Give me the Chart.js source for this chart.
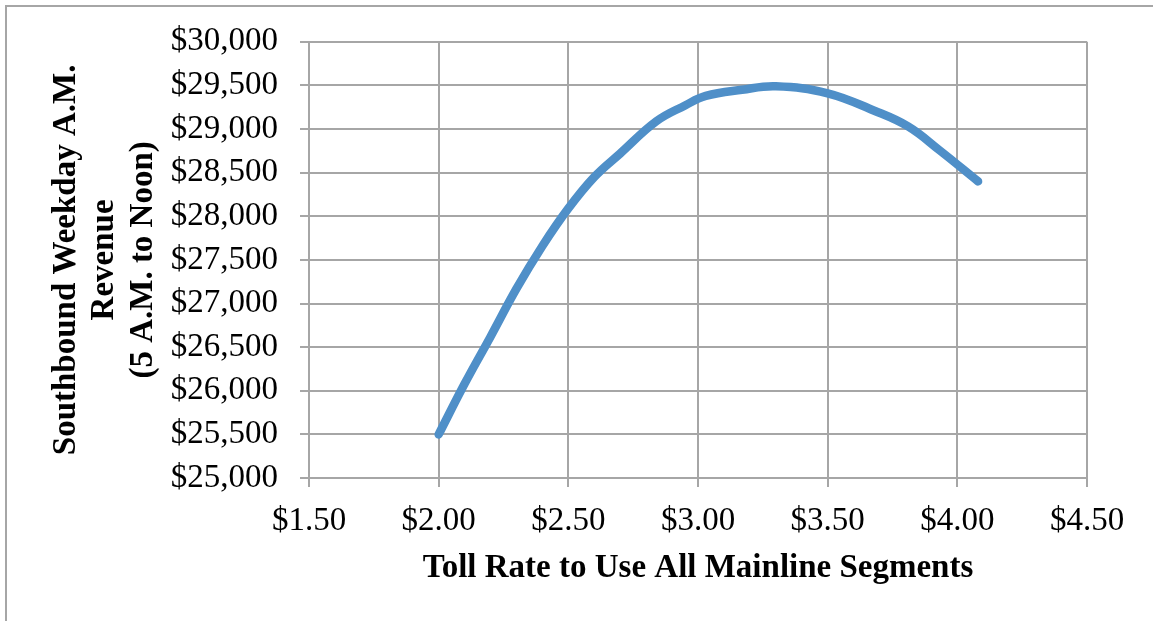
<!DOCTYPE html>
<html lang="en">
<head>
    <meta charset="UTF-8">
    <title>Toll Rate vs Revenue</title>
    <script src="https://cdn.jsdelivr.net/npm/chart.js"></script>
    <style>
        body {
            margin: 0;
            padding: 0;
            background: #ffffff;
            overflow: hidden;
        }
        #wrap {
            width: 1153px;
            height: 621px;
        }
    </style>
</head>
<body>
    <div id="wrap">
        <canvas id="revenueChart" width="1153" height="621"></canvas>
    </div>

    <script>
        // values
        const tollRates = [2.00, 2.10, 2.20, 2.30, 2.40, 2.50, 2.60, 2.70, 2.84, 2.95, 3.03, 3.17, 3.30, 3.50, 3.68, 3.81, 3.93, 4.08];
        const revenue = [25500, 26080, 26620, 27170, 27660, 28090, 28450, 28720, 29090, 29270, 29380, 29450, 29490, 29410, 29210, 29030, 28760, 28400];

        const xTicks = [1.5, 2.0, 2.5, 3.0, 3.5, 4.0, 4.5];
        const yTicks = [25000, 25500, 26000, 26500, 27000, 27500, 28000, 28500, 29000, 29500, 30000];

        const xTitle = 'Toll Rate to Use All Mainline Segments';
        const yTitle = ['Southbound Weekday A.M.', 'Revenue', '(5 A.M. to Noon)'];

        const gridColor = '#a6a6a6';
        const serif = '"Liberation Serif", "Times New Roman", serif';

        const points = tollRates.map((t, i) => ({ x: t, y: revenue[i] }));

        // thin grey frame at top/left edge of the picture
        const framePlugin = {
            id: 'frame',
            beforeDraw(chart) {
                const ctx = chart.ctx;
                ctx.save();
                ctx.strokeStyle = '#a6a6a6';
                ctx.lineWidth = 2;
                ctx.strokeRect(6, 6, 1300, 800);
                ctx.restore();
            }
        };

        new Chart(document.getElementById('revenueChart'), {
            type: 'scatter',
            data: {
                datasets: [{
                    data: points,
                    showLine: true,
                    borderColor: '#4f8fc8',
                    borderWidth: 8.5,
                    borderCapStyle: 'round',
                    borderJoinStyle: 'round',
                    tension: 0.4,
                    pointRadius: 0,
                    pointHoverRadius: 0
                }]
            },
            options: {
                responsive: false,
                animation: false,
                devicePixelRatio: 1,
                layout: { padding: { top: 40, right: 66, bottom: 0, left: 0 } },
                plugins: {
                    legend: { display: false },
                    tooltip: { enabled: false }
                },
                scales: {
                    x: {
                        type: 'linear',
                        min: xTicks[0],
                        max: xTicks[xTicks.length - 1],
                        afterBuildTicks: (scale) => { scale.ticks = xTicks.map(v => ({ value: v })); },
                        afterFit: (scale) => { scale.height = 143; },
                        grid: { color: gridColor, lineWidth: 2, tickLength: 9 },
                        border: { color: gridColor, width: 2 },
                        ticks: {
                            color: '#000',
                            padding: 15,
                            maxRotation: 0,
                            font: { family: serif, size: 33 },
                            callback: (v) => '$' + Number(v).toFixed(2)
                        },
                        title: {
                            display: true,
                            text: xTitle,
                            color: '#000',
                            font: { family: serif, size: 33, weight: 'bold' },
                            padding: { top: 0, bottom: 33 }
                        }
                    },
                    y: {
                        type: 'linear',
                        min: yTicks[0],
                        max: yTicks[yTicks.length - 1],
                        afterBuildTicks: (scale) => { scale.ticks = yTicks.map(v => ({ value: v })); },
                        afterFit: (scale) => { scale.width = 309; },
                        grid: { color: gridColor, lineWidth: 2, tickLength: 9 },
                        border: { color: gridColor, width: 2 },
                        ticks: {
                            color: '#000',
                            padding: 22,
                            font: { family: serif, size: 33 },
                            callback: (v) => '$' + Number(v).toLocaleString('en-US')
                        },
                        title: {
                            display: true,
                            text: yTitle,
                            color: '#000',
                            font: { family: serif, size: 33, weight: 'bold', lineHeight: 1.17 },
                            padding: { top: 47, bottom: 0 }
                        }
                    }
                }
            },
            plugins: [framePlugin]
        });
    </script>
</body>
</html>
